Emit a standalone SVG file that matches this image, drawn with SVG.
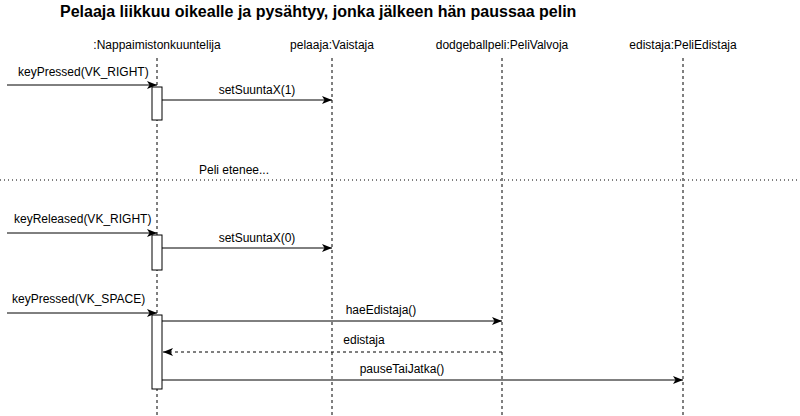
<svg xmlns="http://www.w3.org/2000/svg" width="800" height="416" viewBox="0 0 800 416">
<defs>
<marker id="arr" viewBox="0 0 10 8" refX="10" refY="4" markerWidth="10" markerHeight="8" markerUnits="userSpaceOnUse" orient="auto">
<path d="M0,0 L10,4 L0,8 L2.5,4 Z" fill="#000"/>
</marker>
<style>
text{font-family:"Liberation Sans",Arial,sans-serif;font-size:12px;fill:#000}
.title{font-size:16px;font-weight:bold}
.life{stroke:#000;stroke-width:1;stroke-dasharray:3,3;fill:none}
.act{fill:#fff;stroke:#000;stroke-width:1}
.msg{stroke:#000;stroke-width:1;fill:none;marker-end:url(#arr)}
.ret{stroke:#000;stroke-width:1;fill:none;stroke-dasharray:3,3;marker-end:url(#arr)}
.c{text-anchor:middle}
</style>
</defs>
<rect width="800" height="416" fill="#fff"/>
<text class="title" x="60" y="17">Pelaaja liikkuu oikealle ja pysähtyy, jonka jälkeen hän paussaa pelin</text>

<g id="n1">
<text class="c" x="157" y="49">:Nappaimistonkuuntelija</text>
<line class="life" x1="157" y1="58" x2="157" y2="416"/>
<rect class="act" x="152" y="87" width="10" height="33"/>
<rect class="act" x="152" y="235" width="10" height="35"/>
<rect class="act" x="152" y="315" width="10" height="74"/>
</g>
<g id="n2">
<text class="c" x="332" y="49">pelaaja:Vaistaja</text>
<line class="life" x1="332" y1="58" x2="332" y2="416"/>
</g>
<g id="n3">
<text class="c" x="502" y="49">dodgeballpeli:PeliValvoja</text>
<line class="life" x1="502" y1="58" x2="502" y2="416"/>
</g>
<g id="n4">
<text class="c" x="683" y="49">edistaja:PeliEdistaja</text>
<line class="life" x1="683" y1="58" x2="683" y2="416"/>
</g>

<g id="sep">
<line x1="0" y1="180" x2="800" y2="180" stroke="#000" stroke-width="1" stroke-dasharray="1,3"/>
<text class="c" x="234" y="174">Peli etenee...</text>
</g>

<g id="connectors">
<line class="msg" x1="7" y1="85" x2="157" y2="85"/>
<text x="18" y="76">keyPressed(VK_RIGHT)</text>
<line class="msg" x1="162" y1="100" x2="332" y2="100"/>
<text class="c" x="257" y="94">setSuuntaX(1)</text>

<line class="msg" x1="7" y1="233" x2="157" y2="233"/>
<text x="14" y="223">keyReleased(VK_RIGHT)</text>
<line class="msg" x1="162" y1="248" x2="332" y2="248"/>
<text class="c" x="257" y="242">setSuuntaX(0)</text>

<line class="msg" x1="7" y1="313" x2="157" y2="313"/>
<text x="12" y="303">keyPressed(VK_SPACE)</text>
<line class="msg" x1="162" y1="321" x2="502" y2="321"/>
<text class="c" x="381" y="314">haeEdistaja()</text>
<line class="ret" x1="502" y1="352" x2="163" y2="352"/>
<text class="c" x="364" y="344">edistaja</text>
<line class="msg" x1="162" y1="380" x2="683" y2="380"/>
<text class="c" x="402" y="373">pauseTaiJatka()</text>
</g>
</svg>
